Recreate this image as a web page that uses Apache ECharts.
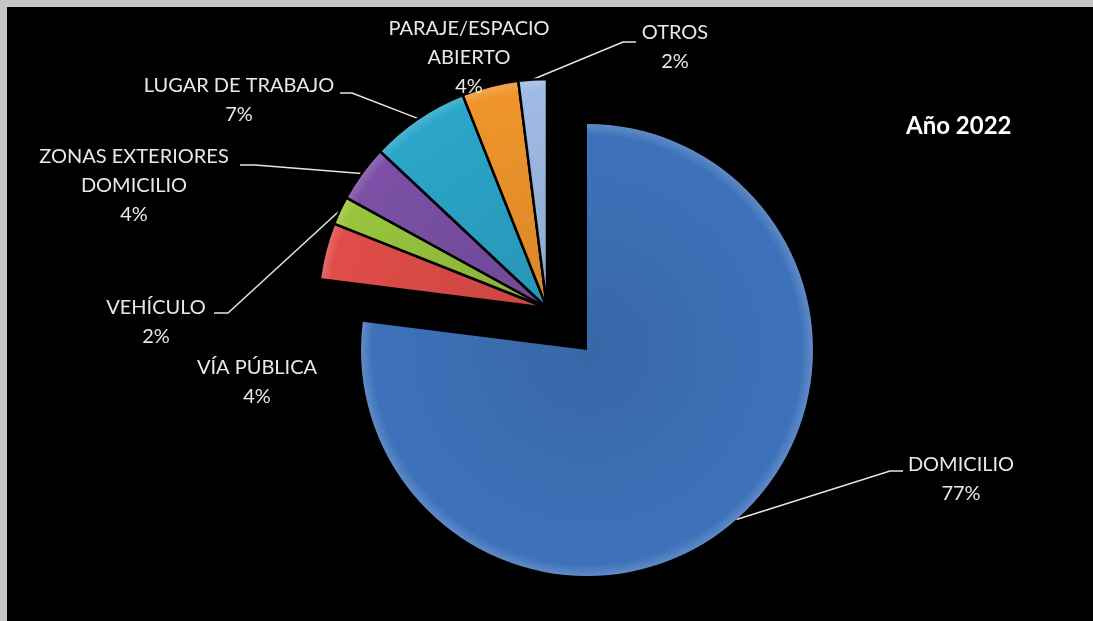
<!DOCTYPE html>
<html><head><meta charset="utf-8">
<script src="https://cdn.jsdelivr.net/npm/echarts@6/dist/echarts.min.js"></script>
<style>html,body{margin:0;padding:0;background:#000;overflow:hidden}#c{width:1093px;height:621px}</style>
</head><body><div id="c"></div>
<script>
// ---- data ----
const categories = ['DOMICILIO','VÍA PÚBLICA','VEHÍCULO','ZONAS EXTERIORES\nDOMICILIO','LUGAR DE TRABAJO','PARAJE/ESPACIO\nABIERTO','OTROS'];
const values = [77, 4, 2, 4, 7, 4, 2];
const chartTitle = 'Año 2022';

// ---- style / layout ----
const colors = ['#3d72ba','#e04d48','#98c43d','#7b50a6','#2ba6c9','#f0952c','#9fbbe5'];
const mainCenter = [587, 350], subCenter = [547, 308], R = 226, R2 = 229;
const labelCfg = [
  {x:961, y:479, line:[[890,471],[903,471]]},
  {x:257, y:382, line:null},
  {x:156, y:322, line:[[228,313],[214,313]]},
  {x:134, y:186, line:[[255,165],[240,165]]},
  {x:239, y:100, line:[[352,93],[340,93]]},
  {x:469, y:58,  line:null},
  {x:675, y:47,  line:[[623,42],[636,42]]}
];

function shade(hex, amt){
  const n = parseInt(hex.slice(1),16);
  let r=(n>>16)&255, g=(n>>8)&255, b=n&255;
  const t = amt<0?0:255, p=Math.abs(amt);
  r=Math.round(r+(t-r)*p); g=Math.round(g+(t-g)*p); b=Math.round(b+(t-b)*p);
  return 'rgb('+r+','+g+','+b+')';
}
function grad(c, center, r){
  return {type:'radial', x:center[0], y:center[1], r:r, global:true,
    colorStops:[{offset:0,color:shade(c,-0.1)},{offset:0.95,color:c},{offset:1,color:shade(c,0.18)}]};
}
function layoutFn(params){
  const cfg = labelCfg[params.dataIndex];
  const out = {x:cfg.x, y:cfg.y, align:'center', verticalAlign:'middle'};
  if (cfg.line && params.labelLinePoints) {
    out.labelLinePoints = [params.labelLinePoints[0], cfg.line[0], cfg.line[1]];
  }
  return out;
}
const labelStyle = {color:'#e8e8e8', fontFamily:'Lato', fontSize:20, lineHeight:29, formatter:'{b}\n{c}%'};

function buildData(isMain, center, r){
  return values.map((v,i)=>{
    const visible = isMain ? i===0 : i!==0;
    return {
      name: categories[i], value: v,
      itemStyle: visible ? {color: grad(colors[i], center, r)} : {color:'rgba(0,0,0,0)', borderWidth:0},
      label: {show: visible},
      labelLine: {show: visible && !!labelCfg[i].line}
    };
  });
}

const chart = echarts.init(document.getElementById('c'));
chart.setOption({
  backgroundColor:'#000',
  animation:false,
  title:{text:chartTitle, left:901, top:109, textStyle:{color:'#ffffff', fontSize:24, fontWeight:'bold', fontFamily:'Lato'}},
  graphic:[
    {type:'rect', shape:{x:0,y:0,width:1093,height:7}, style:{fill:'#c6c6c6'}, z:100},
    {type:'rect', shape:{x:0,y:0,width:7,height:621}, style:{fill:'#c6c6c6'}, z:100}
  ],
  series:[
    {type:'pie', center:mainCenter, radius:R, startAngle:90, clockwise:true, avoidLabelOverlap:false,
     silent:true, label:labelStyle, labelLine:{lineStyle:{color:'#e6e6e6', width:1.5}},
     itemStyle:{borderWidth:0}, labelLayout:layoutFn, data:buildData(true, mainCenter, R)},
    {type:'pie', center:subCenter, radius:R2, startAngle:90, clockwise:true, avoidLabelOverlap:false,
     silent:true, label:labelStyle, labelLine:{lineStyle:{color:'#e6e6e6', width:1.5}},
     itemStyle:{borderColor:'#000', borderWidth:2.5}, labelLayout:layoutFn, data:buildData(false, subCenter, R2)}
  ]
});
</script></body></html>
